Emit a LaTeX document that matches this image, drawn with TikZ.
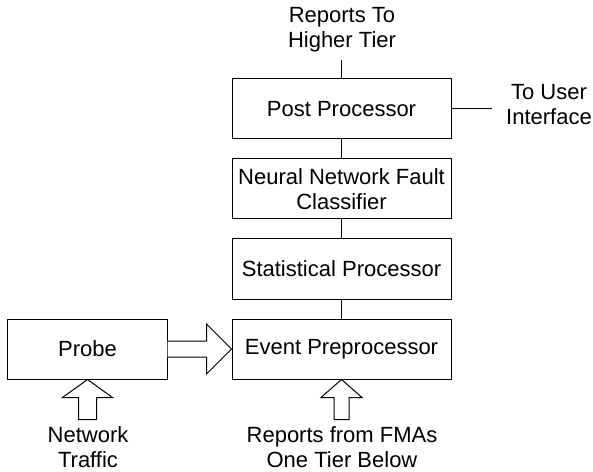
\documentclass[tikz,border=0pt]{standalone}
\usepackage{fontspec}
\setmainfont{Liberation Sans}
\usetikzlibrary{calc}
\begin{document}
\begin{tikzpicture}[x=1bp,y=-1bp, line width=1bp,
 block/.style={draw, minimum width=219bp, minimum height=60bp, inner sep=0pt, align=center, font=\fontsize{22bp}{25.5bp}\selectfont},
 lbl/.style={align=center, inner sep=0pt, font=\fontsize{22bp}{25bp}\selectfont},
 hollow/.style={draw, fill=white, line join=miter}]
\useasboundingbox (0,0) rectangle (593,472);
\node[block] (post) at (341.5,109) {Post Processor};
\node[block] (nn) at (341.5,189) {Neural Network Fault\\Classifier};
\node[block] (stat) at (341.5,269) {Statistical Processor};
\node[block] (event) at (341.5,349) {Event Preprocessor};
\node[block, minimum width=159bp] (probe) at (87.5,349) {Probe};
\node[lbl] (higher) at (342,30) {Reports To\\Higher Tier};
\node[lbl] (user) at (549,105) {To User\\Interface};
\node[lbl] (traffic) at (88,447) {Network\\Traffic};
\node[lbl] (fmas) at (342,447.5) {Reports from FMAs\\One Tier Below};
\coordinate (higherend) at (341.5,60);
\coordinate (userend) at (492,109);
\draw (post.north) -- (higherend);
\draw (post.east) -- (userend);
\draw (post) -- (nn);
\draw (nn) -- (stat);
\draw (stat) -- (event);
\draw[hollow] ($(probe.east)+(0,-8)$) -- ($(event.west)+(-25,-8)$) -- ($(event.west)+(-25,-25)$) -- (event.west) -- ($(event.west)+(-25,25)$) -- ($(event.west)+(-25,8)$) -- ($(probe.east)+(0,8)$);
\draw[hollow] (probe.south) -- ++(25,18) -- ++(-16,0) -- ++(0,22) -- ++(-18,0) -- ++(0,-22) -- ++(-16,0) -- cycle;
\draw[hollow] (event.south) -- ++(20.5,18) -- ++(-13,0) -- ++(0,22) -- ++(-15,0) -- ++(0,-22) -- ++(-13,0) -- cycle;
\end{tikzpicture}
\end{document}
